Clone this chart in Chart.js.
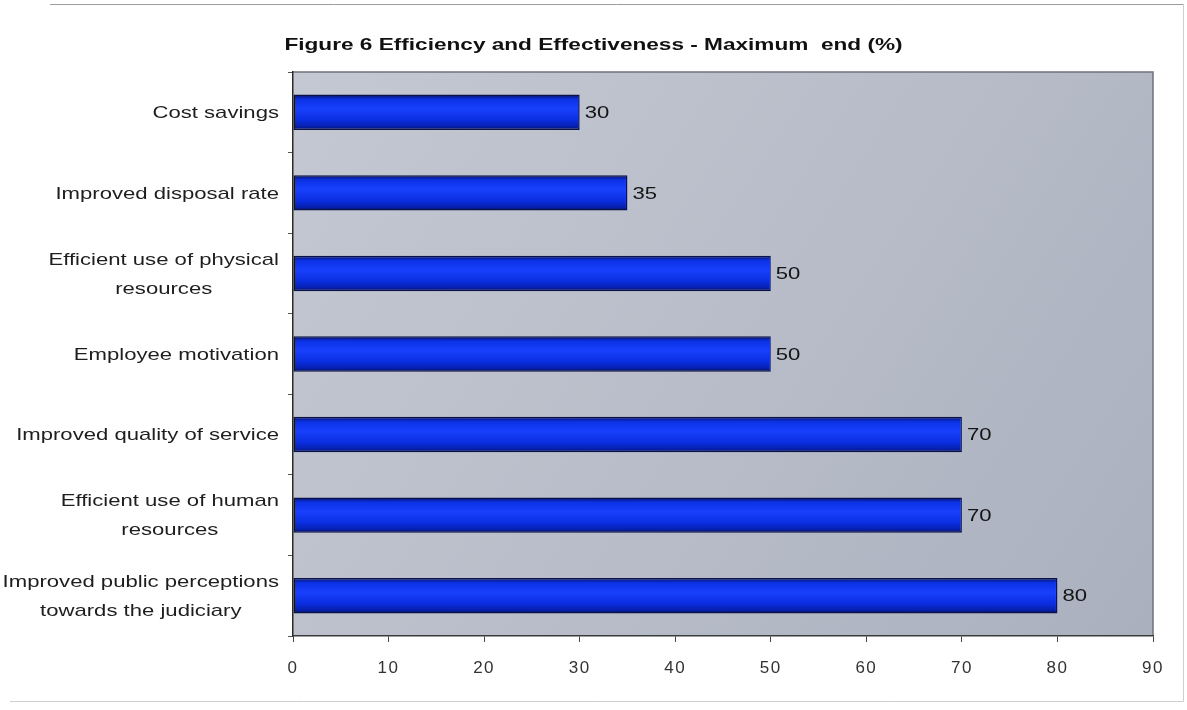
<!DOCTYPE html>
<html>
<head>
<meta charset="utf-8">
<script src="https://cdn.jsdelivr.net/npm/chart.js@4.4.1/dist/chart.umd.min.js"></script>
<style>
  html, body { margin: 0; padding: 0; background: #ffffff; }
  #wrap { width: 1187px; height: 710px; position: relative; }
</style>
</head>
<body>
<div id="wrap"><canvas id="chart" width="1187" height="710"></canvas></div>
<script>
// Survey results: share of respondents at the maximum end (%)
const titleText = 'Figure 6 Efficiency and Effectiveness - Maximum  end (%)';
const categories = [
  ['Cost savings'],
  ['Improved disposal rate'],
  ['Efficient use of physical', 'resources'],
  ['Employee motivation'],
  ['Improved quality of service'],
  ['Efficient use of human', 'resources'],
  ['Improved public perceptions', 'towards the judiciary']
];
const values = [30, 35, 50, 50, 70, 70, 80];
const xTicks = [0, 10, 20, 30, 40, 50, 60, 70, 80, 90];

const FONT = '"Liberation Sans", Arial, Helvetica, sans-serif';
const STRETCH = 1.3;      // wide lettering used throughout the figure
const BAR_PCT = 0.44;

// Draw text widened horizontally around its anchor point
function wideText(ctx, text, x, y, align, sx) {
  ctx.save();
  ctx.translate(x, y);
  ctx.scale(sx || STRETCH, 1);
  ctx.textAlign = align;
  ctx.fillText(text, 0, 0);
  ctx.restore();
}

// Page frame, shaded plot background and the heading
const backdrop = {
  id: 'backdrop',
  beforeDraw(chart) {
    const { ctx, chartArea: a } = chart;
    ctx.save();
    ctx.lineWidth = 1;
    ctx.strokeStyle = '#9c9c9c';
    ctx.beginPath(); ctx.moveTo(50, 4.5); ctx.lineTo(1183.5, 4.5); ctx.stroke();
    ctx.strokeStyle = '#cfcfcf';
    ctx.beginPath(); ctx.moveTo(1183.5, 4.5); ctx.lineTo(1183.5, 701.5); ctx.lineTo(10, 701.5); ctx.stroke();

    const g = ctx.createLinearGradient(a.left, a.top, a.right, a.bottom);
    g.addColorStop(0, '#c4c8d2');
    g.addColorStop(0.5, '#b8bdc9');
    g.addColorStop(1, '#aab0be');
    ctx.fillStyle = g;
    ctx.fillRect(a.left, a.top, a.right - a.left, a.bottom - a.top);
    ctx.strokeStyle = '#6f737c';
    ctx.lineWidth = 1.5;
    ctx.beginPath();
    ctx.moveTo(a.left, a.top); ctx.lineTo(a.right, a.top); ctx.lineTo(a.right, a.bottom);
    ctx.stroke();

    ctx.font = 'bold 17px ' + FONT;
    ctx.fillStyle = '#111111';
    ctx.textBaseline = 'middle';
    wideText(ctx, titleText, chart.width / 2, 45, 'center', 1.33);
    ctx.restore();
    // slightly spaced numerals on the value axis
    ctx.letterSpacing = '1.5px';
  }
};

// Category labels: right-aligned blocks with centred lines
const categoryLabels = {
  id: 'categoryLabels',
  afterDraw(chart) {
    const { ctx } = chart;
    const y = chart.scales.y;
    const rightEdge = chart.chartArea.left - 14;
    const lineH = 29;
    ctx.save();
    ctx.letterSpacing = '0px';
    ctx.font = '17px ' + FONT;
    ctx.fillStyle = '#1e1e1e';
    ctx.textBaseline = 'middle';
    categories.forEach((lines, i) => {
      const cy = y.getPixelForValue(i) + 1;
      const w = Math.max(...lines.map(l => ctx.measureText(l).width)) * STRETCH;
      const cx = rightEdge - w / 2;
      const y0 = cy - (lines.length - 1) * lineH / 2;
      lines.forEach((l, k) => wideText(ctx, l, cx, y0 + k * lineH, 'center'));
    });
    ctx.restore();
  }
};

// Value printed just past each bar end
const valueLabels = {
  id: 'valueLabels',
  afterDatasetsDraw(chart) {
    const { ctx } = chart;
    const meta = chart.getDatasetMeta(0);
    ctx.save();
    ctx.letterSpacing = '0px';
    ctx.font = '17px ' + FONT;
    ctx.fillStyle = '#141414';
    ctx.textBaseline = 'middle';
    meta.data.forEach((bar, i) => {
      wideText(ctx, String(values[i]), bar.x + 5, bar.y + 1, 'left');
    });
    ctx.restore();
  }
};

// Vertical shading across each bar's thickness
function barFill(context) {
  const chart = context.chart;
  const ys = chart.scales && chart.scales.y;
  if (!chart.chartArea || !ys || context.dataIndex === undefined) return '#1030e6';
  const cy = ys.getPixelForValue(context.dataIndex);
  const half = (ys.height / categories.length) * BAR_PCT / 2;
  const g = chart.ctx.createLinearGradient(0, cy - half, 0, cy + half);
  g.addColorStop(0, '#061062');
  g.addColorStop(0.14, '#0c32e6');
  g.addColorStop(0.4, '#1840fc');
  g.addColorStop(0.72, '#0a2ee0');
  g.addColorStop(0.9, '#0620b0');
  g.addColorStop(1, '#06105a');
  return g;
}

new Chart(document.getElementById('chart'), {
  type: 'bar',
  data: {
    labels: categories,
    datasets: [{
      data: values,
      backgroundColor: barFill,
      borderColor: '#0a1248',
      borderWidth: 1.5,
      borderSkipped: false,
      barPercentage: BAR_PCT,
      categoryPercentage: 1.0
    }]
  },
  options: {
    indexAxis: 'y',
    responsive: false,
    animation: false,
    devicePixelRatio: 1,
    layout: { padding: { left: 0, right: 34, top: 72, bottom: 0 } },
    plugins: {
      legend: { display: false },
      tooltip: { enabled: false },
      title: { display: false }
    },
    scales: {
      x: {
        type: 'linear',
        min: 0,
        max: 90,
        afterBuildTicks(scale) { scale.ticks = xTicks.map(v => ({ value: v })); },
        afterFit(scale) { scale.height = 74; },
        ticks: {
          color: '#333333',
          padding: 16,
          font: { family: FONT, size: 17 }
        },
        grid: {
          drawOnChartArea: false,
          drawTicks: true,
          tickLength: 6,
          color: '#444444'
        },
        border: { display: true, color: '#3a3a3a', width: 1.5 }
      },
      y: {
        type: 'category',
        offset: true,
        afterFit(scale) { scale.width = 293; },
        ticks: { display: false },
        grid: {
          offset: true,
          drawOnChartArea: false,
          drawTicks: true,
          tickLength: 5,
          color: '#555555'
        },
        border: { display: true, color: '#2a2a2a', width: 1.5 }
      }
    }
  },
  plugins: [backdrop, categoryLabels, valueLabels]
});
</script>
</body>
</html>
